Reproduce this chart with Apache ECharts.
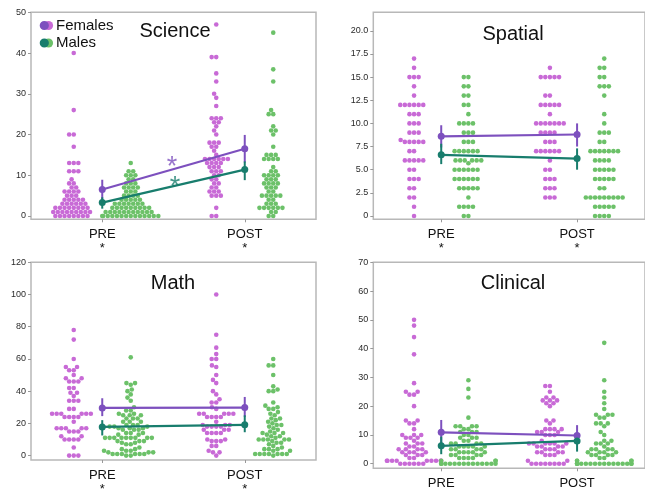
<!DOCTYPE html>
<html>
<head>
<meta charset="utf-8">
<script src="https://cdn.jsdelivr.net/npm/echarts@6/dist/echarts.min.js"></script>
<style>
html, body { margin: 0; padding: 0; background: #fff; }
#main { width: 645px; height: 496px; }
</style>
</head>
<body>
<div id="main"></div>
<script>
// timepoints
var timepoints = ['PRE', 'POST'];

// Science scores
var sciF_pre = [0,0,0,0,0,0,0,0, 1,1,1,1,1,1,1,1,1, 2,2,2,2,2,2,2,2, 3,3,3,3,3,3, 4,4,4,4,4, 5,5,5, 6,6,6,6, 7,7, 8,8, 9, 11,11,11, 13,13,13, 17, 20,20, 26, 40];
var sciM_pre = [0,0,0,0,0,0,0,0,0,0,0,0,0,0, 1,1,1,1,1,1,1,1,1,1,1, 2,2,2,2,2,2,2,2,2, 3,3,3,3,3,3,3, 4,4,4,4,4, 5,5,5,5, 6,6,6, 7,7,7,7, 8,8,8, 9,9, 10,10,10, 11,11, 13];
var sciF_post = [0,0, 2, 5,5,5, 6,6,6, 7,7, 8,8, 9,9, 10,10, 11,11,11, 12,12,12, 13,13,13,13, 14,14,14,14,14,14, 15, 16, 17,17, 18,18,18, 20, 21, 22, 23,23, 24,24,24, 27, 29, 30, 33, 35, 39,39, 47];
var sciM_post = [0,0, 1,1, 2,2,2,2,2,2, 3,3,3, 4,4, 5,5,5,5,5, 6,6, 7,7,7, 8,8,8,8, 9,9,9, 10,10,10,10, 11,11, 12, 14,14,14,14, 15,15,15, 17, 20, 21,21, 22, 25,25, 26, 33, 36, 45];
var sciF_mean = [6.5, 16.5];
var sciF_ci = [[4.1, 8.9], [13.1, 19.9]];
var sciM_mean = [3.3, 11.4];
var sciM_ci = [[1.8, 4.6], [8.8, 13.4]];
var sciStars = [[0.49, 13.5], [0.51, 8.8]];
var sciTicks = [0, 10, 20, 30, 40, 50];

// Spatial scores
var spaF_pre = [0, 1, 2,2, 3,3, 4,4,4, 5,5, 6,6,6,6,6, 7,7, 8,8,8,8,8, 8.2, 9,9,9, 10,10,10, 11,11,11, 12,12,12,12,12,12, 13, 14, 15,15,15, 16, 17];
var spaM_pre = [0,0, 1,1,1,1, 2, 3,3,3,3,3, 4,4,4,4,4,4, 5,5,5,5,5,5, 5.7, 6,6,6,6,6,6, 7,7,7,7,7,7, 8,8,8, 9,9,9, 10,10,10,10, 11, 12,12, 13,13, 14,14, 15,15];
var spaF_post = [2,2,2, 3,3,3, 4,4,4, 5,5, 6, 7,7,7,7,7,7, 8,8,8, 9,9,9,9, 10,10,10,10,10,10,10, 11, 12,12,12,12,12, 13,13, 15,15,15,15,15, 16];
var spaM_post = [0,0,0,0, 1,1,1,1,1, 2,2,2,2,2,2,2,2,2, 3,3, 4,4,4,4,4, 5,5,5,5,5, 6,6,6,6, 7,7,7,7,7,7,7, 8,8, 9,9,9, 10, 11, 13, 14,14,14, 15,15, 16,16, 17];
var spaF_mean = [8.6, 8.8];
var spaF_ci = [[7.4, 9.8], [7.5, 10.0]];
var spaM_mean = [6.6, 6.2];
var spaM_ci = [[5.6, 7.8], [5.0, 7.3]];
var spaTicks = [0, 2.5, 5, 7.5, 10, 12.5, 15, 17.5, 20];

// Math scores
var matF_pre = [0,0,0, 5, 10,10,10,10, 12,12, 15,15,15, 17,17,17,17,17, 21, 24,24,24,24, 26,26,26,26,26,26, 29,29, 34,34,34, 37, 39,39, 42,42, 46,46,46, 48,48, 50, 53,53, 55,55, 60, 72, 78];
var matM_pre = [0,0, 1,1,1,1,1,1, 2,2,2, 3,3,3, 4,4, 5, 7,7, 8,8, 9,9,9, 11,11,11,11,11,11,11,11,11, 13,13, 14,14,14, 16,16,16, 17,17,17, 18,18,18, 19,19,19, 21,21,21, 23,23,23, 25,25,25, 26,26, 28,28, 30, 34, 36, 38, 40, 41, 44, 45,45, 61];
var matF_post = [0, 2,2, 3, 6,6, 9,9,9, 10,10, 14,14,14,14, 16,16,16, 18,18,18,18, 19,19,19, 21, 24,24,24,24, 26,26,26,26,26, 29, 30, 33,33, 35, 38, 40, 45, 47, 50, 55, 56, 60,60, 63, 67, 75, 100];
var matM_post = [0, 1,1,1,1,1,1,1, 3,3, 4,4,4, 5, 6, 7, 8,8, 9, 10,10,10,10,10, 11, 12,12, 13, 14,14,14, 15, 16, 17, 18, 19,19, 20, 21, 22, 23,23, 25, 26, 27, 29,29, 30, 31, 33, 40,40, 41, 43, 50, 56,56, 60];
var matF_mean = [29.6, 29.8];
var matF_ci = [[24.5, 35.6], [24.0, 36.4]];
var matM_mean = [17.8, 19.1];
var matM_ci = [[12.5, 22.0], [14.5, 25.0]];
var matTicks = [0, 20, 40, 60, 80, 100, 120];

// Clinical scores
var cliF_pre = [0,0,0,0,0,0, 1,1,1,1,1,1,1,1,1, 2,2, 3,3,3, 4,4,4,4, 5,5,5,5, 6,6, 7,7,7, 8, 9,9,9, 10,10,10, 12, 14,14, 15,15, 20, 24,24, 25,25, 28, 38, 44, 48, 50];
var cliM_pre = [0,0,0,0,0,0,0,0,0,0,0,0,0,0, 1,1,1, 2,2,2,2, 3,3,3,3, 4,4,4,4,4, 5,5,5,5, 6,6,6,6,6, 7,7,7,7, 8,8, 9,9,9, 10,10, 11,11,11, 12,12, 13,13,13,13, 16, 23, 26, 29];
var cliF_post = [0,0,0,0,0,0,0,0, 1,1, 3,3,3, 4,4,4,4, 5,5,5, 6,6,6,6, 7,7,7,7,7,7, 8, 10,10,10, 11,11,11, 12,12,12,12, 14, 15,15, 20, 21,21, 22,22,22, 23,23, 25, 27,27];
var cliM_post = [0,0,0,0,0,0,0,0,0,0,0,0,0,0,0,0, 1,1,1,1, 2,2, 3,3,3,3, 4,4,4,4, 5,5,5,5, 6, 7,7,7, 8,8, 10, 11, 13, 14,14,14, 16,16, 17,17,17, 19, 21, 23, 25, 29, 42];
var cliF_mean = [10.9, 9.8];
var cliF_ci = [[7.0, 15.2], [6.8, 13.4]];
var cliM_mean = [6.2, 7.9];
var cliM_ci = [[3.3, 9.4], [4.2, 10.5]];
var cliTicks = [0, 10, 20, 30, 40, 50, 60, 70];

var FEM_DOT = '#c86ad6', MALE_DOT = '#6cc169';
var FEM_LINE = '#7d50be', MALE_LINE = '#187d6d';
var DOT = 4.6;
var FONT = '"Liberation Sans", Arial, Helvetica, sans-serif';

var panels = [
  {title: 'Science', box: {left: 31, top: 12.3, width: 285, height: 207}, yMin: -0.81, yMax: 50, ticks: sciTicks,
   fem: [sciF_pre, sciF_post], male: [sciM_pre, sciM_post], fMean: sciF_mean, fCi: sciF_ci, mMean: sciM_mean, mCi: sciM_ci, star: true, tx: 175, ty: 31},
  {title: 'Spatial', box: {left: 373.3, top: 12.3, width: 284.2, height: 207}, yMin: -0.36, yMax: 22, ticks: spaTicks,
   fem: [spaF_pre, spaF_post], male: [spaM_pre, spaM_post], fMean: spaF_mean, fCi: spaF_ci, mMean: spaM_mean, mCi: spaM_ci, star: true, tx: 513, ty: 34.5},
  {title: 'Math', box: {left: 31, top: 262.3, width: 285, height: 206}, yMin: -2.74, yMax: 120, ticks: matTicks,
   fem: [matF_pre, matF_post], male: [matM_pre, matM_post], fMean: matF_mean, fCi: matF_ci, mMean: matM_mean, mCi: matM_ci, star: true, tx: 173, ty: 283.3},
  {title: 'Clinical', box: {left: 373.3, top: 262.3, width: 284.2, height: 206}, yMin: -1.6, yMax: 70, ticks: cliTicks,
   fem: [cliF_pre, cliF_post], male: [cliM_pre, cliM_post], fMean: cliF_mean, fCi: cliF_ci, mMean: cliM_mean, mCi: cliM_ci, star: false, tx: 513, ty: 283.5}
];

var chart = echarts.init(document.getElementById('main'));

var base = {
  animation: false,
  grid: panels.map(function (p) {
    return Object.assign({show: true, borderColor: '#b8b8b8', borderWidth: 1.5, containLabel: false}, p.box);
  }),
  xAxis: panels.map(function (p, i) {
    return {
      type: 'value', gridIndex: i, min: -0.5, max: 1.5, position: 'bottom',
      axisLine: {show: false, onZero: false},
      splitLine: {show: false},
      axisTick: {show: true, customValues: [0, 1], length: 3, lineStyle: {color: '#999'}},
      axisLabel: {
        customValues: [0, 1], margin: 8,
        formatter: function (v) {
          var name = timepoints[Math.round(v)];
          return p.star ? '{a|' + name + '}\n{b|*}' : '{a|' + name + '}';
        },
        rich: {
          a: {fontSize: 13, color: '#111', fontFamily: FONT, lineHeight: 15},
          b: {fontSize: 13, color: '#111', fontFamily: FONT, lineHeight: 13}
        }
      }
    };
  }),
  yAxis: panels.map(function (p, i) {
    return {
      type: 'value', gridIndex: i, min: p.yMin, max: p.yMax, position: 'left',
      axisLine: {show: false, onZero: false},
      splitLine: {show: false},
      axisTick: {show: true, customValues: p.ticks, length: 3, lineStyle: {color: '#999'}},
      axisLabel: {
        customValues: p.ticks, margin: 5, fontSize: 9, color: '#2a2a2a', fontFamily: FONT,
        formatter: function (v) {
          if (p.title === 'Spatial') return v === 0 ? '0' : v.toFixed(1);
          return String(v);
        }
      }
    };
  })
};
chart.setOption(base);

// simple beeswarm: place sorted points as close to the centre as possible without overlap
function beeswarm(values, gridIndex, center) {
  var a = chart.convertToPixel({gridIndex: gridIndex}, [0, 0]);
  var b = chart.convertToPixel({gridIndex: gridIndex}, [1, 1]);
  var sx = b[0] - a[0], sy = a[1] - b[1];
  var gutter = 0.2 * sx;
  var sorted = values.slice().sort(function (m, n) { return m - n; });
  var placed = [], out = [];
  sorted.forEach(function (v) {
    var y = v * sy;
    var near = placed.filter(function (q) { return Math.abs(q[1] - y) < DOT; });
    var cands = [0];
    near.forEach(function (q) {
      var dx = Math.sqrt(DOT * DOT - (q[1] - y) * (q[1] - y));
      cands.push(q[0] - dx, q[0] + dx);
    });
    cands.sort(function (m, n) { return (Math.abs(m) - Math.abs(n)) || (m - n); });
    var x = cands.find(function (c) {
      return near.every(function (q) { return (c - q[0]) * (c - q[0]) + (y - q[1]) * (y - q[1]) >= DOT * DOT - 0.01; });
    });
    placed.push([x, y]);
    out.push([center + Math.max(-gutter, Math.min(gutter, x)) / sx, v]);
  });
  return out;
}

function ciSeries(i, ci, color) {
  return {
    type: 'custom', xAxisIndex: i, yAxisIndex: i, z: 4,
    data: ci.map(function (c, k) { return [k, c[0], c[1]]; }),
    encode: {x: 0, y: [1, 2]},
    renderItem: function (params, api) {
      var p1 = api.coord([api.value(0), api.value(1)]);
      var p2 = api.coord([api.value(0), api.value(2)]);
      return {type: 'line', shape: {x1: p1[0], y1: p1[1], x2: p2[0], y2: p2[1]}, style: {stroke: color, lineWidth: 2}};
    }
  };
}

var series = [];
panels.forEach(function (p, i) {
  series.push({
    type: 'scatter', xAxisIndex: i, yAxisIndex: i, symbolSize: DOT, z: 2,
    itemStyle: {color: FEM_DOT, opacity: 1},
    data: beeswarm(p.fem[0], i, -0.2).concat(beeswarm(p.fem[1], i, 0.8))
  });
  series.push({
    type: 'scatter', xAxisIndex: i, yAxisIndex: i, symbolSize: DOT, z: 2,
    itemStyle: {color: MALE_DOT, opacity: 1},
    data: beeswarm(p.male[0], i, 0.2).concat(beeswarm(p.male[1], i, 1.2))
  });
  series.push(ciSeries(i, p.fCi, FEM_LINE));
  series.push({
    type: 'line', xAxisIndex: i, yAxisIndex: i, z: 5, symbol: 'circle', symbolSize: 7,
    itemStyle: {color: FEM_LINE}, lineStyle: {color: FEM_LINE, width: 2.2},
    data: p.fMean.map(function (m, k) { return [k, m]; })
  });
  series.push(ciSeries(i, p.mCi, MALE_LINE));
  series.push({
    type: 'line', xAxisIndex: i, yAxisIndex: i, z: 5, symbol: 'circle', symbolSize: 7,
    itemStyle: {color: MALE_LINE}, lineStyle: {color: MALE_LINE, width: 2.2},
    data: p.mMean.map(function (m, k) { return [k, m]; })
  });
});

// significance asterisks inside the Science panel
series.push({
  type: 'scatter', xAxisIndex: 0, yAxisIndex: 0, symbolSize: 1, z: 6,
  itemStyle: {color: 'rgba(0,0,0,0)'},
  label: {show: true, position: 'inside', formatter: '*', fontSize: 27, fontFamily: FONT, offset: [0, 7]},
  data: [
    {value: sciStars[0], label: {color: FEM_LINE}},
    {value: sciStars[1], label: {color: MALE_LINE}}
  ]
});

var graphics = panels.map(function (p) {
  return {type: 'text', x: p.tx, y: p.ty, z: 10,
    style: {text: p.title, fontSize: 20, fontFamily: FONT, fill: '#111', textAlign: 'center', textVerticalAlign: 'middle'}};
});
// legend with two-tone circle icons
[['Females', FEM_LINE, FEM_DOT, 25.5], ['Males', MALE_LINE, MALE_DOT, 43]].forEach(function (l) {
  graphics.push({type: 'circle', shape: {cx: 48.5, cy: l[3], r: 4.6}, style: {fill: l[2]}, z: 10});
  graphics.push({type: 'circle', shape: {cx: 44.3, cy: l[3], r: 4.6}, style: {fill: l[1]}, z: 11});
  graphics.push({type: 'text', x: 56, y: l[3], z: 10,
    style: {text: l[0], fontSize: 15, fontFamily: FONT, fill: '#111', textVerticalAlign: 'middle'}});
});

chart.setOption({series: series, graphic: graphics});
</script>
</body>
</html>
